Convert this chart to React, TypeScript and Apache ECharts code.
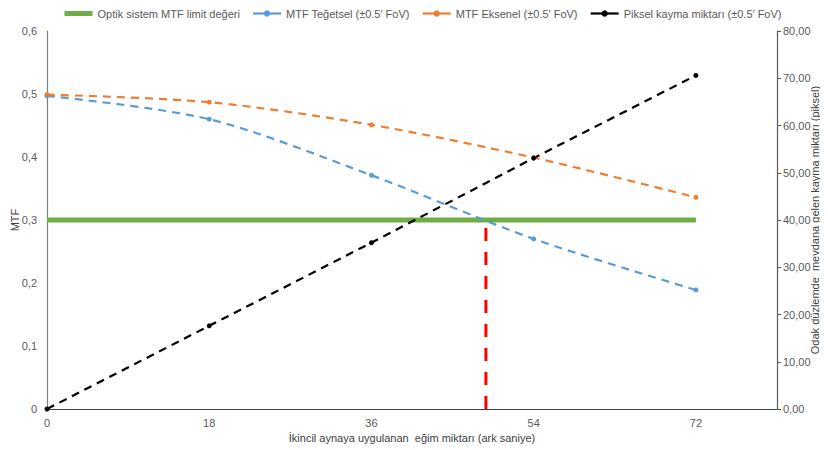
import React, { useEffect, useRef } from "react";
import * as echarts from "echarts";

const xValues = [0, 18, 36, 54, 72];
const mtfLimit = [0.3, 0.3, 0.3, 0.3, 0.3];
const mtfTangential = [0.497, 0.46, 0.371, 0.27, 0.189];
const mtfSagittal = [0.499, 0.487, 0.451, 0.399, 0.336];
const pixelShift = [0, 17.6, 35.2, 53.1, 70.6];
const crossX = 48.7;
const crossTop = 0.29;

const names = [
  "Optik sistem MTF limit değeri",
  "MTF Teğetsel (±0.5′ FoV)",
  "MTF Eksenel (±0.5′ FoV)",
  "Piksel kayma miktarı (±0.5′ FoV)",
];
const xName = "İkincil aynaya uygulanan  eğim miktarı (ark saniye)";
const yLeftName = "MTF";
const yRightName = "Odak düzlemde  mevdana gelen kayma miktarı (piksel)";

const FONT = "'Liberation Sans', Arial, sans-serif";
const GRAY = "#595959";

export default function App() {
  const ref = useRef<HTMLDivElement>(null);
  useEffect(() => {
    if (!ref.current) return;
    const chart = echarts.init(ref.current, null, { renderer: "svg" });
    const pts = (ys: number[]) => xValues.map((x, i) => [x, ys[i]]);
    chart.setOption({
      animation: false,
      textStyle: { fontFamily: FONT },
      legend: {
        top: 3,
        left: 57,
        itemWidth: 28,
        itemHeight: 8,
        itemGap: 12,
        lineStyle: { type: "solid", width: 2.2 },
        textStyle: { fontSize: 11, color: GRAY, fontFamily: FONT },
        data: [
          { name: names[0], itemStyle: { opacity: 0 }, lineStyle: { width: 5, type: "solid" } },
          names[1],
          names[2],
          names[3],
        ],
      },
      grid: { left: 47, right: 51, top: 31, bottom: 41, outerBoundsMode: "none" },
      graphic: [
        {
          type: "text",
          x: 15,
          y: 220,
          rotation: Math.PI / 2,
          style: {
            text: yLeftName,
            fontSize: 11,
            fontFamily: FONT,
            fill: "#404040",
            align: "center",
            verticalAlign: "middle",
          },
        },
        {
          type: "text",
          x: 815,
          y: 220,
          rotation: Math.PI / 2,
          style: {
            text: yRightName,
            fontSize: 11,
            fontFamily: FONT,
            fill: "#404040",
            align: "center",
            verticalAlign: "middle",
          },
        },
      ],
      xAxis: {
        type: "value",
        min: 0,
        max: 81,
        interval: 18,
        name: xName,
        nameLocation: "middle",
        nameGap: 23,
        nameTextStyle: { fontSize: 11, color: "#404040" },
        axisLine: { lineStyle: { color: "#404040", width: 1.2 } },
        axisTick: { show: false },
        axisLabel: { fontSize: 11, color: GRAY, showMaxLabel: false, margin: 8 },
        splitLine: { show: false },
      },
      yAxis: [
        {
          type: "value",
          min: 0,
          max: 0.6,
          interval: 0.1,
          axisLine: { show: true, lineStyle: { color: "#808080", width: 1.2 } },
          axisTick: { show: false },
          axisLabel: {
            fontSize: 11,
            color: GRAY,
            margin: 10,
            formatter: (v: number) => (v === 0 ? "0" : v.toFixed(1).replace(".", ",")),
          },
          splitLine: { show: false },
        },
        {
          type: "value",
          min: 0,
          max: 80,
          interval: 10,
          position: "right",
          axisLine: { show: true, lineStyle: { color: "#595959", width: 1.2 } },
          axisTick: { show: true, length: 4, lineStyle: { color: "#595959" } },
          axisLabel: {
            fontSize: 11,
            color: GRAY,
            margin: 6,
            formatter: (v: number) => v.toFixed(2).replace(".", ","),
          },
          splitLine: { show: false },
        },
      ],
      series: [
        {
          name: names[0],
          type: "line",
          data: pts(mtfLimit),
          showSymbol: false,
          symbol: "none",
          lineStyle: { color: "#70AD47", width: 5 },
          itemStyle: { color: "#70AD47" },
          z: 3,
        },
        {
          name: names[1],
          type: "line",
          data: pts(mtfTangential),
          symbol: "circle",
          symbolSize: 5,
          smooth: 0.3,
          lineStyle: { color: "#5B9BD5", width: 2.2, type: [8, 6] },
          itemStyle: { color: "#5B9BD5" },
          z: 4,
        },
        {
          name: names[2],
          type: "line",
          data: pts(mtfSagittal),
          symbol: "circle",
          symbolSize: 5,
          smooth: 0.3,
          lineStyle: { color: "#ED7D31", width: 2.2, type: [8, 6] },
          itemStyle: { color: "#ED7D31" },
          z: 4,
        },
        {
          name: names[3],
          type: "line",
          yAxisIndex: 1,
          data: pts(pixelShift),
          symbol: "circle",
          symbolSize: 5,
          lineStyle: { color: "#000000", width: 2.2, type: [8, 6] },
          itemStyle: { color: "#000000" },
          z: 4,
        },
        {
          name: "cross",
          type: "line",
          data: [
            [crossX, 0],
            [crossX, crossTop],
          ],
          symbol: "none",
          lineStyle: { color: "#FF0000", width: 3, type: [13, 11] },
          z: 2,
        },
      ],
    });
    return () => chart.dispose();
  }, []);
  return <div ref={ref} style={{ width: 828, height: 450, marginLeft: -8, marginTop: -8 }} />;
}
